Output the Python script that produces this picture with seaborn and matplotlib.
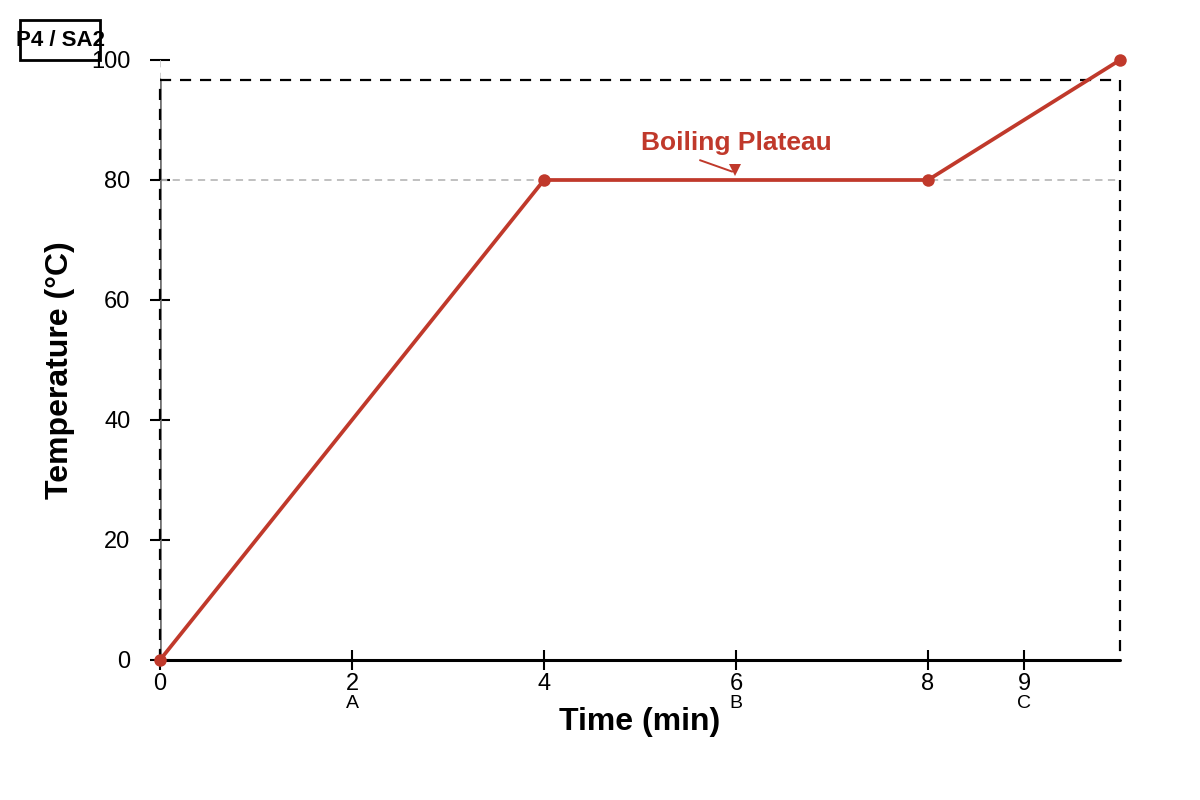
import matplotlib.pyplot as plt
import numpy as np
import pandas as pd
import seaborn as sns

sns.set_theme(style="white")
plt.rcParams["font.family"] = ["Liberation Sans", "DejaVu Sans"]
plt.rcParams["text.color"] = "black"
plt.rcParams["axes.labelcolor"] = "black"

time_min = [0, 4, 8, 10]
temp_c = [0, 80, 80, 100]
tick_pos = [0, 2, 4, 6, 8, 9]
tick_labels = ["0", "2", "4", "6", "8", "9"]
point_names = {2: "A", 6: "B", 9: "C"}
y_ticks = [0, 20, 40, 60, 80, 100]
plateau_temp = 80
box_top = 96.7

red = "#c0392b"
df = pd.DataFrame({"time": time_min, "temp": temp_c})

fig = plt.figure(figsize=(12, 8), dpi=100)
ax = fig.add_axes([160 / 1200, 1 - 660 / 800, 960 / 1200, 600 / 800])

# reference lines and frame
ax.axhline(plateau_temp, color="#bbbbbb", lw=1.3, ls=(0, (4, 3)), zorder=1)
ax.plot([0, 0], [box_top, 100], color="#cccccc", lw=1.3, ls=(0, (4, 3)), zorder=1)
ax.plot([0, 0], [0, box_top], color="#707070", lw=2.6, zorder=2)
ax.plot([0, 0, 10, 10], [0, box_top, box_top, 0], color="black", lw=1.6,
        ls=(0, (5, 4)), zorder=3, clip_on=False)
ax.plot([0, 10], [0, 0], color="black", lw=2.2, zorder=3, clip_on=False)

sns.lineplot(data=df, x="time", y="temp", ax=ax, color=red, lw=2.7,
             marker="o", markersize=9, markeredgewidth=0, zorder=5,
             clip_on=False)

# annotation arrow
ax.plot([5.625, 5.96], [83.3, 81.4], color=red, lw=1.4, zorder=6)
ax.plot([5.99], [81.75], marker="v", markersize=8, color=red,
        markeredgewidth=0, zorder=6)
ax.text(6.0, 86.2, "Boiling Plateau", color=red, fontsize=19,
        fontweight="bold", ha="center", va="center")

ax.set_xlim(0, 10)
ax.set_ylim(0, 100)
for s in ax.spines.values():
    s.set_visible(False)
ax.set_xticks(tick_pos)
ax.set_xticklabels(tick_labels)
ax.set_yticks(y_ticks)
ax.tick_params(axis="both", direction="inout", length=14.4, width=1.5,
               color="black", labelsize=17, labelcolor="black",
               bottom=True, left=True)
ax.tick_params(axis="x", pad=2)
ax.tick_params(axis="y", pad=14)

for xv, name in point_names.items():
    ax.text(xv, -7.2, name, fontsize=14, ha="center", va="center",
            transform=ax.transData, clip_on=False)

ax.set_xlabel("Time (min)", fontsize=23, fontweight="bold", va="center")
ax.xaxis.set_label_coords(0.5, -0.103)
ax.set_ylabel("Temperature (°C)", fontsize=23, fontweight="bold",
              va="center", ha="center")
ax.yaxis.set_label_coords(-0.104, 0.483)

fig.patches.append(plt.Rectangle((20 / 1200, 1 - 60 / 800), 80 / 1200, 40 / 800,
                                 transform=fig.transFigure, fill=False,
                                 edgecolor="black", lw=2))
fig.text(60 / 1200, 1 - 40 / 800, "P4 / SA2", fontsize=16, fontweight="bold",
         ha="center", va="center")

fig.savefig("out.png", dpi=100)
